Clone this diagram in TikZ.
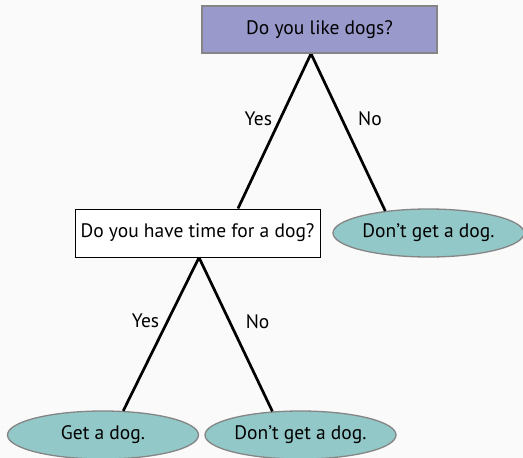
\documentclass[tikz,border=0pt]{standalone}
\usepackage{fontspec}
\setmainfont{PT Sans}
\usetikzlibrary{shapes.geometric,calc}
\definecolor{bgcol}{HTML}{FAFAFA}
\definecolor{qfill}{HTML}{9999CC}
\definecolor{afill}{HTML}{93C8C8}
\definecolor{rimgray}{HTML}{858585}
\tikzset{
  txt/.style={font=\fontsize{19.5}{22}\selectfont},
  question/.style={txt, draw=rimgray, line width=1.3pt, rectangle, inner sep=0pt},
  answer/.style={txt, ellipse, fill=afill, draw=rimgray, line width=1.3pt,
    minimum width=191pt, minimum height=48pt, inner sep=0pt},
  branch/.style={line width=2.7pt, black},
  lbl/.style={txt, inner sep=0pt}
}
\begin{document}
\begin{tikzpicture}[x=1pt, y=-1pt]
  \fill[bgcol] (0,0) rectangle (523,458);
  \useasboundingbox (0,0) rectangle (523,458);

  % questions
  \node[question, fill=qfill, minimum width=235pt, minimum height=47pt] (q1) at (319.5,29.5) {Do you like dogs?};
  \node[question, fill=white, draw=black, line width=1pt, minimum width=245pt, minimum height=48pt] (q2) at (197.5,233) {Do you have time for a dog?};

  % outcomes
  \node[answer] (a1) at (428.5,233) {Don’t get a dog.};
  \node[answer] (a2) at (103,435) {Get a dog.};
  \node[answer] (a3) at (300.5,435) {Don’t get a dog.};

  % branch roots below each question
  \coordinate (r1) at ($(q1.south)+(-8.5,0)$);
  \coordinate (r2) at ($(q2.south)+(1.5,0)$);

  % branches
  \draw[branch] (r1) -- node[lbl, pos=0.42, anchor=east, xshift=-7pt] {Yes} ($(q2.north)+(40.5,0)$);
  \draw[branch] (r1) -- node[lbl, pos=0.415, anchor=west, xshift=15pt] {No} (a1.153);
  \draw[branch] (r2) -- node[lbl, pos=0.415, anchor=east, xshift=-7pt] {Yes} (a2.50);
  \draw[branch] (r2) -- node[lbl, pos=0.415, anchor=west, xshift=15pt] {No} (a3.140);

  % redraw the box bottoms over the branch ends
  \draw[rimgray, line width=1.3pt] (q1.south west) -- (q1.south east);
  \draw[black, line width=1pt] (q2.south west) -- (q2.south east);
\end{tikzpicture}
\end{document}
